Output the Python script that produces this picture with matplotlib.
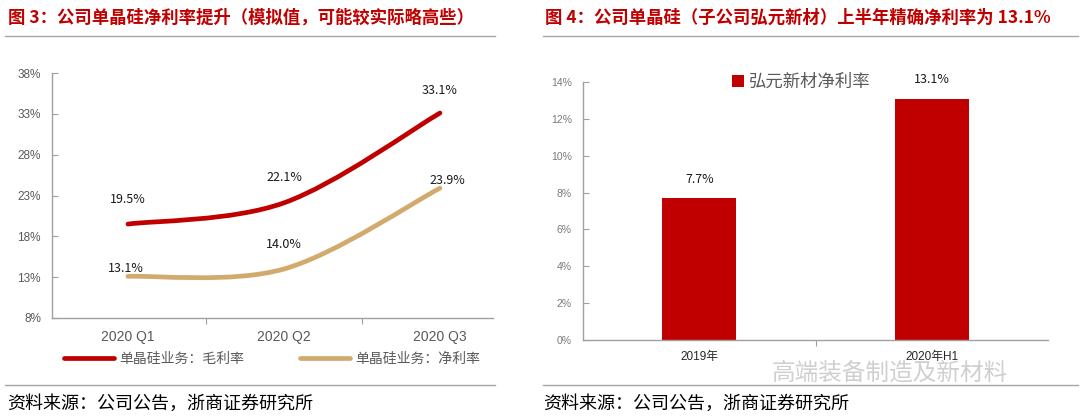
import numpy as np
import matplotlib
matplotlib.use('Agg')
from matplotlib import pyplot as plt
from matplotlib.path import Path
from matplotlib.patches import PathPatch
from matplotlib.lines import Line2D

plt.rcParams['font.family'] = ['Noto Sans CJK SC', 'DejaVu Sans']

# ---- data ----
quarters = ['2020 Q1', '2020 Q2', '2020 Q3']
gross_margin = [19.5, 22.1, 33.1]
net_margin = [13.1, 14.0, 23.9]
line_names = ['单晶硅业务：毛利率', '单晶硅业务：净利率']
# label offsets in pixels (dx, dy) from each point
gross_offsets = [(0, 25), (0, 25), (0, 23)]
net_offsets = [(-2, 8), (0, 24), (7, 8)]
y_ticks_left = [8, 13, 18, 23, 28, 33, 38]

periods = ['2019年', '2020年H1']
hongyuan_net = [7.7, 13.1]
bar_name = '弘元新材净利率'
y_ticks_right = [0, 2, 4, 6, 8, 10, 12, 14]

title_left = '图 3：公司单晶硅净利率提升（模拟值，可能较实际略高些）'
title_right = '图 4：公司单晶硅（子公司弘元新材）上半年精确净利率为 13.1%'
source = '资料来源：公司公告，浙商证券研究所'
watermark = '高端装备制造及新材料'

RED = '#C00000'
TAN = '#D3AA6D'
GRAY_TXT = '#595959'
AXIS_GRAY = '#A0A0A0'

W, H = 1080, 417
fig = plt.figure(figsize=(W / 100, H / 100), dpi=100)


def rect(l, t, r, b):
    return [l / W, 1 - b / H, (r - l) / W, (b - t) / H]


def smooth_path(xs, ys):
    # Excel style smoothed line: cubic bezier, catmull-rom control points
    pts = np.column_stack([xs, ys]).astype(float)
    n = len(pts)
    verts = [pts[0]]
    codes = [Path.MOVETO]
    for i in range(n - 1):
        p0 = pts[i - 1] if i > 0 else pts[i]
        p1 = pts[i]
        p2 = pts[i + 1]
        p3 = pts[i + 2] if i + 2 < n else pts[i + 1]
        c1 = p1 + (p2 - p0) / 6
        c2 = p2 - (p3 - p1) / 6
        verts += [c1, c2, p2]
        codes += [Path.CURVE4] * 3
    return Path(verts, codes)


def hline(y, x0, x1):
    fig.add_artist(Line2D([x0 / W, x1 / W], [1 - y / H, 1 - y / H],
                          color='#A6A6A6', lw=1.0))


# ---- left chart ----
fig.text(8 / W, 1 - 18 / H, title_left, color=RED, fontsize=12.5,
         fontweight='bold', va='center', ha='left')
hline(36, 5, 495)

ax1 = fig.add_axes(rect(52, 73, 493, 318))
x = np.arange(len(quarters))
for vals, col in [(gross_margin, RED), (net_margin, TAN)]:
    ax1.add_patch(PathPatch(smooth_path(x, vals), fill=False, edgecolor=col,
                            lw=3.4, capstyle='round', joinstyle='round'))
ax1.set_xlim(-0.487, 2.34)
ax1.set_ylim(8, 38)
ax1.set_yticks(y_ticks_left)
ax1.set_yticklabels([f'{v}%' for v in y_ticks_left], family='Liberation Sans',
                    fontsize=8.5, color=GRAY_TXT)
ax1.set_xticks([0.5, 1.5], minor=False)
ax1.set_xticklabels([])
ax1.tick_params(axis='x', direction='out', length=4, color=AXIS_GRAY)
ax1.tick_params(axis='y', direction='in', length=4, color=AXIS_GRAY, pad=8)
for i, q in enumerate(quarters):
    ax1.annotate(q, (i, 0), xycoords=('data', 'axes fraction'),
                 xytext=(0, -19), textcoords='offset pixels', ha='center',
                 va='center', family='Liberation Sans', fontsize=10,
                 color=GRAY_TXT)
for s in ['top', 'right']:
    ax1.spines[s].set_visible(False)
for s in ['left', 'bottom']:
    ax1.spines[s].set_color(AXIS_GRAY)
    ax1.spines[s].set_linewidth(1.0)

for vals, offs in [(gross_margin, gross_offsets), (net_margin, net_offsets)]:
    for i, (v, o) in enumerate(zip(vals, offs)):
        ax1.annotate(f'{v:.1f}%', (i, v), xytext=o, textcoords='offset pixels',
                     ha='center', va='center', fontsize=9, color='#1a1a1a')

handles = [Line2D([], [], color=RED, lw=3.4, solid_capstyle='round'),
           Line2D([], [], color=TAN, lw=3.4, solid_capstyle='round')]
fig.legend(handles, line_names, loc='center', bbox_to_anchor=(272 / W, 1 - 359 / H),
           ncol=2, frameon=False, fontsize=10, handlelength=3.6,
           columnspacing=4.0, handletextpad=0.4, labelcolor=GRAY_TXT)

hline(385, 5, 495)
fig.text(7 / W, 1 - 404 / H, source, fontsize=13, color='black', va='center')

# ---- right chart ----
fig.text(545 / W, 1 - 18 / H, title_right, color=RED, fontsize=12.5,
         fontweight='bold', va='center', ha='left')
hline(36, 543, 1078)

ax2 = fig.add_axes(rect(583, 82, 1048, 340))
xb = np.arange(len(periods))
bars = ax2.bar(xb, hongyuan_net, width=0.32, color=RED, label=bar_name)
ax2.set_xlim(-0.5, 1.5)
ax2.set_ylim(0, 14)
ax2.set_yticks(y_ticks_right)
ax2.set_yticklabels([f'{v}%' for v in y_ticks_right], family='Liberation Sans',
                    fontsize=7.5, color='#7a7a7a')
ax2.set_xticks([0.5])
ax2.set_xticklabels([])
ax2.tick_params(axis='x', direction='out', length=4, color=AXIS_GRAY)
ax2.tick_params(axis='y', direction='in', length=4, color=AXIS_GRAY, pad=8)
for i, p in enumerate(periods):
    ax2.annotate(p, (i, 0), xycoords=('data', 'axes fraction'),
                 xytext=(0, -17), textcoords='offset pixels', ha='center',
                 va='center', family=['Liberation Sans', 'Noto Sans CJK SC'],
                 fontsize=8.5, color='#262626', zorder=5)
for s in ['top', 'right']:
    ax2.spines[s].set_visible(False)
for s in ['left', 'bottom']:
    ax2.spines[s].set_color(AXIS_GRAY)
    ax2.spines[s].set_linewidth(1.0)
for i, v in enumerate(hongyuan_net):
    ax2.annotate(f'{v:.1f}%', (i, v), xytext=(0, 19), textcoords='offset pixels',
                 ha='center', va='center', fontsize=9, color='#1a1a1a')
ax2.legend(loc='center', bbox_to_anchor=(0.47, 1.0), frameon=False,
           fontsize=12.5, handlelength=0.7, handleheight=0.7,
           handletextpad=0.3, labelcolor=GRAY_TXT)

# watermark (faint, sits under the second period label as in the source)
fig.text(772 / W, 1 - 373 / H, watermark, fontsize=17, color='#C4C4C4',
         alpha=0.8, va='center', ha='left', zorder=0)

hline(385, 543, 1078)
fig.text(543 / W, 1 - 404 / H, source, fontsize=13, color='black', va='center')

fig.savefig('out.png', dpi=100)
